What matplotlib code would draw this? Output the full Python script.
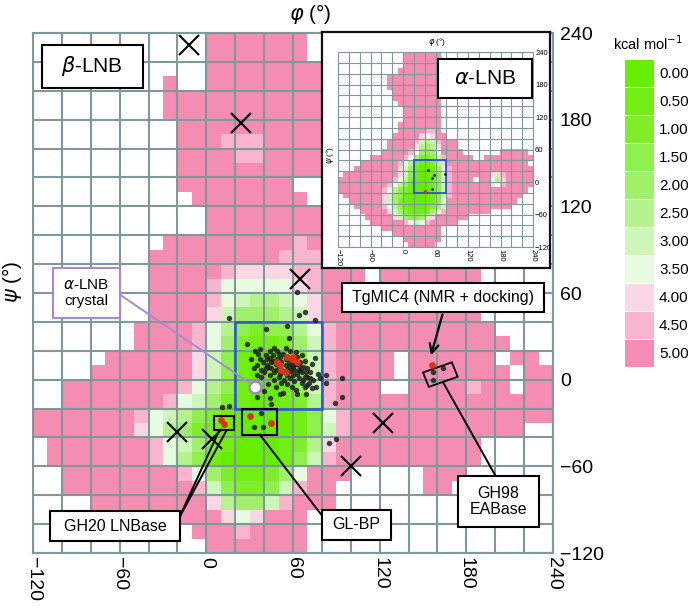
import numpy as np
import matplotlib
matplotlib.use('Agg')
import matplotlib.pyplot as plt
from matplotlib.colors import ListedColormap, BoundaryNorm
from matplotlib.patches import Rectangle, Polygon

plt.rcParams['font.family'] = ['Liberation Sans', 'DejaVu Sans']
plt.rcParams['mathtext.fontset'] = 'dejavusans'

# energy levels (kcal/mol) and their colours
LEVEL_LABELS = ['0.00', '0.50', '1.00', '1.50', '2.00', '2.50',
                '3.00', '3.50', '4.00', '4.50', '5.00']
LEVEL_COLORS = ['#66ee00', '#72ee14', '#7eee2a', '#8fef4c', '#a0f06a', '#b4f38e',
                '#cdf7b8', '#e6fbe0', '#fbd7e6', '#f8b5cd', '#f48db1']
# grid code: '0'..'9' -> level 0..9, 'P' -> level 10 (5.00), '.' -> above 5 (white)
LEVEL_CODE = '0123456789P'

# beta-LNB map, 10 deg cells, rows psi 240 -> -120, cols phi -120 -> 240
BETA_MAP = [
    "............PPPPPPP.................",
    "............PPPPPPP.................",
    "............PPPPPPPP................",
    ".........P..PPPPPPPP................",
    ".........PPPPPPPPPPP................",
    ".........PPPPPPPPPPP................",
    "..........PPPPPPPPPP................",
    "..........PPP999PPPP................",
    "..........PPPP99PPPP................",
    "..........PPPPPPPPPP................",
    "..........PPPPPPPP..................",
    "...........PPPPPPPP.................",
    "............PPPPPPPP................",
    "............PPPPPPPP................",
    ".........PPPPPPPPP9P................",
    "........PPPPPPPPP999................",
    "........PPPPP9888899PPP.PPPPPPP.....",
    "........PPPP97777789PPP.PPPPPPP.....",
    "........PPPP97655678PPPPPPPPPPP.....",
    "........PPPP86444568PPPPPPPPPPP.....",
    ".......PPPP9753233579PPPPPPPPPPP....",
    ".......PPPP9742112469PPPPPPPPPPPP...",
    ".....PPPPPP8631001369PPPP.PPPPPP.PP.",
    "....PPPPPPP8631001369PPPP.PPPPPPP.PP",
    "..PPPPPPPP97531001369PPP..PPPP9PP.PP",
    "..PPPPPPP976421001259PPPPPPPPPPPPPPP",
    "PPPPPPP976532100001379PPPPPPPPPPPPPP",
    "PPPPPPP875421000001369PPPPPPPPPPPP..",
    ".PPPPPPP9764210001258PPPPPPPPPP.....",
    ".PPPPPPP9753100001369PPPPPPPPPP.....",
    "..PPPPPPPP974211247PPP.....PPP......",
    "..PPPPPPPPP96322369PP......PP.......",
    "....PPPPPPPP854469PPP...............",
    ".....PPPPPPPP878PPP.................",
    "...........PPP9PPPP.................",
    "............PPPPPPP.................",
]

# alpha-LNB map (inset)
ALPHA_MAP = [
    "............PPPPPPP.................",
    "............PPPPPPP.................",
    "............PPPPPPP.................",
    "...........PPPPPPPP.................",
    ".........PPPPPPPPPP.................",
    ".........PPPPPPPPPP.................",
    ".........PPPPPPPPPP.................",
    "..........PPPPPPPPP.................",
    "..........PPPPPPPPP.................",
    "...........PPPPPPPP.................",
    "............PPPPPPP.................",
    "............PPPPPPP.................",
    "............PPPPPPP.................",
    "...........PPPPPPPP.................",
    "...........PPPPP99P.................",
    "..........PPPPP878PP................",
    ".........PPPPP96569PPP..............",
    ".........PPPPP85458PPP..............",
    "........PPPPP974347PPPP.......PPPPP.",
    "......PPPPPP97422369PPPPP..PPPPPPPPP",
    "....PPPPPPP975211258PPPPPPPPPPPPPPP.",
    "...PPPPPPPP8641001479PPPPPPPPPPPPPPP",
    ".PPPPPPPPPP8631001379PPPPPPP869PPPPP",
    "PPPPPPPPPP97520001369PPPP.PP758PPPPP",
    "PPPPPPPPP975310001369PPPPPPP879PPPPP",
    "PPPPPPPP9753210001369PPPPPPPPPPPPPP.",
    ".PPPPPPP8643100001369PPPPPPPPPPPPP..",
    "..PPPPPP864210000137PPPPPPPPPPPPP...",
    "...PPPPP975310001248PPPPPPPPPPPP....",
    "....PPPPP86421112479PPPPPPPP........",
    ".....PPPPP86433468PPPPPP............",
    "......PPPPPP97679PPPPP..............",
    "........PPPPPPPPPPP.................",
    "..........PPPPPPPPP.................",
    "............PPPPPPP.................",
    ".............PPPPP..................",
]

# crystal structures (black) and complexes (red) on the beta-LNB map
BLACK_PHI = [16, 63, 68, 64, 75, 41, 56, 57, 28, 34, 44, 49, 41, 31, 37, 42, 46, 51,
             35, 38, 43, 48, 51, 56, 60, 64, 65, 68, 67, 72, 75, 77, 79, 83, 94, 35,
             44, 45, 51, 69, 76, 94, 89, 11, 16, 38, 33, 39, 90, 85, 83, 63, 70, 53,
             36, 39, 40, 42, 44, 45, 46, 47, 48, 49, 50, 50, 52, 53, 53, 54, 55, 55,
             56, 57, 58, 58, 59, 60, 60, 61, 61, 62, 63, 63, 64, 65, 66, 66, 67, 68,
             69, 70, 70, 71, 72, 73, 74, 47, 44, 41, 38, 52, 56, 59, 62, 48, 43, 40,
             35, 33, 37, 47, 55, 62, 66, 58, 50, 45, 51, 57, 64, 68, 73, 157, 164, 157]
BLACK_PSI = [43, 61, 47, 45, 41, 35, 37, 29, 25, 20, 20, 20, 17, 14, 14, 14, 13, 16,
             10, 7, 9, 7, 4, 7, 9, 10, 7, 2, 0, 1, 15, 4, 1, 3, 1, -12,
             -13, -17, -10, -10, -5, -12, -16, -19, -18, -23, -33, -33, -41, -44, -2, -10, -4, -9,
             18, 12, 5, 10, 3, 12, 17, 0, 11, 14, 9, 2, 12, 6, 18, 0, 10, 14,
             3, 12, 6, 1, 10, 3, 14, 7, -1, 11, 4, 16, 1, 12, 5, -2, 9, 13,
             5, 2, 8, -2, 5, 11, 0, 5, 15, 8, 2, -2, -3, -5, -7, -5, -3, -8,
             3, 8, 21, 22, 22, 19, 17, 20, 18, 8, 11, 9, 7, -5, -6, 5, 8, 0]
RED_PHI = [49, 51, 56, 60, 59, 63, 52, 55, 10, 12, 30, 45, 156]
RED_PSI = [12, 10, 16, 16, 14, 12, 7, 5, -28, -31, -25, -30, 10]

# alpha-LNB crystal conformation
CRYSTAL_PHI, CRYSTAL_PSI = 34, -5

# local minima (x marks)
MIN_PHI = [-12, 24, 65, -20, 4, 122, 100]
MIN_PSI = [232, 178, 70, -36, -41, -30, -60]

# inset points
INSET_BLACK_PHI = [46, 57, 53, 77, 54]
INSET_BLACK_PSI = [23, 13, 8, 15, -12]
INSET_RED_PHI = [41]
INSET_RED_PSI = [-17]

TICKS = [-120, -60, 0, 60, 120, 180, 240]
TICK_LABELS = [str(t).replace('-', '\u2212') for t in TICKS]

GRID_C = '#7f9898'


def to_array(rows):
    arr = np.full((len(rows), 36), np.nan)
    for r, row in enumerate(rows):
        for c, ch in enumerate(row.ljust(36, '.')[:36]):
            if ch != '.':
                arr[r, c] = LEVEL_CODE.index(ch)
    return np.ma.masked_invalid(arr)


cmap = ListedColormap(LEVEL_COLORS)
cmap.set_bad('white')
norm = BoundaryNorm(np.arange(-0.5, 11), cmap.N)


def draw_map(ax, rows, fs, glw):
    ax.imshow(to_array(rows), cmap=cmap, norm=norm, extent=(-120, 240, -120, 240),
              origin='upper', interpolation='nearest', aspect='auto', zorder=0)
    ax.set_xlim(-120, 240)
    ax.set_ylim(-120, 240)
    ax.set_xticks(TICKS)
    ax.set_yticks(TICKS)
    ax.set_xticks(np.arange(-120, 241, 20), minor=True)
    ax.set_yticks(np.arange(-120, 241, 20), minor=True)
    ax.set_xticklabels(TICK_LABELS, rotation=-90, fontsize=fs)
    ax.set_yticklabels(TICK_LABELS, fontsize=fs)
    ax.yaxis.tick_right()
    ax.tick_params(which='both', length=0)
    ax.set_axisbelow(False)
    ax.grid(which='both', color=GRID_C, lw=glw)
    for s in ax.spines.values():
        s.set_color(GRID_C)
        s.set_linewidth(glw)


W, H = 692, 609
fig = plt.figure(figsize=(W / 100, H / 100), dpi=100)


def px_axes(x0, y0, x1, y1):
    return fig.add_axes([x0 / W, 1 - y1 / H, (x1 - x0) / W, (y1 - y0) / H])


# ---- main beta-LNB map
ax = px_axes(33, 33, 553, 553)
draw_map(ax, BETA_MAP, 14, 1.5)
ax.tick_params(axis='x', pad=3)
ax.tick_params(axis='y', pad=5)

ax.add_patch(Rectangle((20, -20), 60, 60, fill=False, ec='#2a55d8', lw=1.8, zorder=4))
ax.add_patch(Rectangle((5, -35), 14, 10, fill=False, ec='k', lw=1.5, zorder=4))
ax.add_patch(Rectangle((25, -38), 24, 18, fill=False, ec='k', lw=1.5, zorder=4))
ax.add_patch(Polygon([(150, 5), (170, 12), (174, 2), (154, -5)], closed=True,
                     fill=False, ec='k', lw=1.3, zorder=4))

ax.scatter(BLACK_PHI, BLACK_PSI, s=15, c='#1e1e1e', alpha=0.85, lw=0, zorder=5)
ax.scatter(RED_PHI, RED_PSI, s=24, c='#e0301a', lw=0, zorder=6)
ax.plot(MIN_PHI, MIN_PSI, 'x', ms=15, mew=1.5, color='k', zorder=6)

# labels with leader lines
def label_box(x0, y0, x1, y1, text, fs, ec='k'):
    ax.add_patch(Rectangle((x0, y0), x1 - x0, y1 - y0, fc='white', ec=ec, lw=1.5, zorder=8))
    ax.text((x0 + x1) / 2, (y0 + y1) / 2, text, fontsize=fs, ha='center', va='center',
            zorder=9, linespacing=1.1)

ax.plot([-60, CRYSTAL_PHI], [59, CRYSTAL_PSI], color='#a58ad8', lw=1.4, zorder=7)
ax.scatter([CRYSTAL_PHI], [CRYSTAL_PSI], s=70, c='white', ec='#9a7be0', lw=1.5, zorder=8)
ax.plot([-19, 9], [-96, -35], color='k', lw=1.4, zorder=7)
ax.plot([-19, 14], [-96, -35], color='k', lw=1.4, zorder=7)
ax.plot([80, 37], [-94, -38], color='k', lw=1.4, zorder=7)
ax.plot([201, 164], [-68, -2], color='k', lw=1.4, zorder=7)
ax.annotate('', xy=(155, 15), xytext=(164, 47),
            arrowprops=dict(arrowstyle='->', color='k', lw=1.6, mutation_scale=16), zorder=7)

label_box(-114, 202, -44, 232, r'$\beta$-LNB', 15)
label_box(-106, 43, -60, 77, '$\\alpha$-LNB\ncrystal', 11, ec='#a58ad8')
label_box(-108, -112, -18, -91, 'GH20 LNBase', 11.5)
label_box(80, -111, 128, -90, 'GL-BP', 11.5)
label_box(174, -102, 230, -67, 'GH98\nEABase', 11.5)
label_box(94, 47, 234, 67, 'TgMIC4 (NMR + docking)', 11.5)

fig.text(310 / W, 1 - 14 / H, r'$\varphi$ (°)', fontsize=15, ha='center', va='center')
fig.text(12 / W, 1 - 282 / H, r'$\psi$ (°)', fontsize=15, ha='center', va='center', rotation=90)

# ---- inset alpha-LNB map
frame = px_axes(322, 32, 550, 268)
frame.set_xticks([])
frame.set_yticks([])
frame.set_facecolor('white')
for s in frame.spines.values():
    s.set_color('#111111')
    s.set_linewidth(1.6)

ins = px_axes(338, 52, 533, 247)
draw_map(ins, ALPHA_MAP, 5.5, 0.8)
ins.tick_params(axis='both', pad=1.5)
ins.add_patch(Rectangle((20, -20), 60, 60, fill=False, ec='#2a55d8', lw=1.3, zorder=4))
ins.scatter(INSET_BLACK_PHI, INSET_BLACK_PSI, s=4, c='#1e1e1e', lw=0, zorder=5)
ins.scatter(INSET_RED_PHI, INSET_RED_PSI, s=6, c='#e0301a', lw=0, zorder=5)
ins.add_patch(Rectangle((64, 155), 174, 72, fc='white', ec='k', lw=1.5, zorder=8))
ins.text(151, 191, r'$\alpha$-LNB', fontsize=15, ha='center', va='center', zorder=9)
fig.text(437 / W, 1 - 42 / H, r'$\varphi$ (°)', fontsize=6, ha='center', va='center')
fig.text(330 / W, 1 - 155 / H, r'$\psi$ (°)', fontsize=6, ha='center', va='center', rotation=90)

# ---- colour key
leg = px_axes(600, 30, 692, 390)
leg.set_xlim(600, 692)
leg.set_ylim(390, 30)
leg.axis('off')
leg.text(648, 44, 'kcal mol$^{-1}$', fontsize=10.5, ha='center', va='center')
for i, (lab, col) in enumerate(zip(LEVEL_LABELS, LEVEL_COLORS)):
    y = 60 + 28 * i
    leg.add_patch(Rectangle((625, y), 29, 27, fc=col, ec='none'))
    leg.text(659, y + 13.5, lab, fontsize=11, ha='left', va='center')

fig.savefig('out.png', dpi=100)
